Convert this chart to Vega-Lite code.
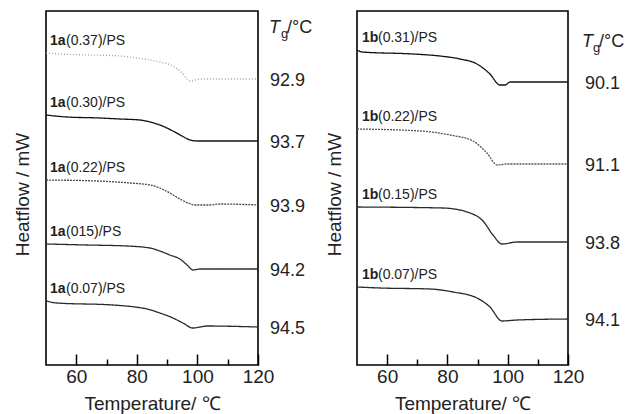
{
  "$schema": "https://vega.github.io/schema/vega-lite/v6.json",
  "background": "white",
  "padding": {"left": 12, "top": 10, "right": 5, "bottom": 5},
  "bounds": "flush",
  "spacing": 99,
  "config": {
    "font": "Liberation Sans",
    "view": {"stroke": "#000", "strokeWidth": 1.6},
    "text": {"font": "Liberation Sans", "color": "#222"}
  },
  "datasets": {
    "a": [
      {"s": "1a(0.37)", "T": 50, "h": 312}, {"s": "1a(0.37)", "T": 54.6, "h": 311}, {"s": "1a(0.37)", "T": 64.5, "h": 310}, {"s": "1a(0.37)", "T": 74.4, "h": 309}, {"s": "1a(0.37)", "T": 80.0, "h": 307}, {"s": "1a(0.37)", "T": 87.6, "h": 303}, {"s": "1a(0.37)", "T": 91.9, "h": 299}, {"s": "1a(0.37)", "T": 94.9, "h": 292}, {"s": "1a(0.37)", "T": 96.6, "h": 286}, {"s": "1a(0.37)", "T": 97.6, "h": 284}, {"s": "1a(0.37)", "T": 99.2, "h": 285}, {"s": "1a(0.37)", "T": 100.9, "h": 286}, {"s": "1a(0.37)", "T": 120, "h": 286},
      {"s": "1a(0.30)", "T": 50, "h": 250}, {"s": "1a(0.30)", "T": 56.9, "h": 248}, {"s": "1a(0.30)", "T": 67.8, "h": 247}, {"s": "1a(0.30)", "T": 74.4, "h": 246}, {"s": "1a(0.30)", "T": 81.0, "h": 245}, {"s": "1a(0.30)", "T": 84.3, "h": 243}, {"s": "1a(0.30)", "T": 87.6, "h": 240}, {"s": "1a(0.30)", "T": 91.9, "h": 234}, {"s": "1a(0.30)", "T": 94.9, "h": 229}, {"s": "1a(0.30)", "T": 97.6, "h": 225}, {"s": "1a(0.30)", "T": 99.9, "h": 224}, {"s": "1a(0.30)", "T": 120, "h": 224},
      {"s": "1a(0.22)", "T": 50, "h": 185}, {"s": "1a(0.22)", "T": 66.8, "h": 184}, {"s": "1a(0.22)", "T": 77.7, "h": 182}, {"s": "1a(0.22)", "T": 84.3, "h": 180}, {"s": "1a(0.22)", "T": 87.6, "h": 177}, {"s": "1a(0.22)", "T": 90.9, "h": 172}, {"s": "1a(0.22)", "T": 94.2, "h": 166}, {"s": "1a(0.22)", "T": 96.9, "h": 162}, {"s": "1a(0.22)", "T": 99.2, "h": 160}, {"s": "1a(0.22)", "T": 104.2, "h": 160}, {"s": "1a(0.22)", "T": 107.5, "h": 161}, {"s": "1a(0.22)", "T": 120, "h": 160},
      {"s": "1a(0.15)", "T": 50, "h": 121}, {"s": "1a(0.15)", "T": 63.5, "h": 120}, {"s": "1a(0.15)", "T": 76.7, "h": 119}, {"s": "1a(0.15)", "T": 84.3, "h": 117}, {"s": "1a(0.15)", "T": 87.6, "h": 114}, {"s": "1a(0.15)", "T": 90.9, "h": 110}, {"s": "1a(0.15)", "T": 94.2, "h": 106}, {"s": "1a(0.15)", "T": 96.6, "h": 100}, {"s": "1a(0.15)", "T": 98.5, "h": 95}, {"s": "1a(0.15)", "T": 100.9, "h": 96}, {"s": "1a(0.15)", "T": 120, "h": 96},
      {"s": "1a(0.07)", "T": 50, "h": 64}, {"s": "1a(0.07)", "T": 53.6, "h": 62}, {"s": "1a(0.07)", "T": 72.1, "h": 60}, {"s": "1a(0.07)", "T": 79.4, "h": 58}, {"s": "1a(0.07)", "T": 83.4, "h": 56}, {"s": "1a(0.07)", "T": 87.6, "h": 52}, {"s": "1a(0.07)", "T": 91.9, "h": 47}, {"s": "1a(0.07)", "T": 95.2, "h": 42}, {"s": "1a(0.07)", "T": 98.5, "h": 37}, {"s": "1a(0.07)", "T": 100.9, "h": 38}, {"s": "1a(0.07)", "T": 103.2, "h": 39}, {"s": "1a(0.07)", "T": 120, "h": 38}
    ],
    "b": [
      {"s": "1b(0.31)", "T": 50, "h": 315}, {"s": "1b(0.31)", "T": 51.7, "h": 313}, {"s": "1b(0.31)", "T": 68.6, "h": 311}, {"s": "1b(0.31)", "T": 77.5, "h": 309}, {"s": "1b(0.31)", "T": 84.2, "h": 306}, {"s": "1b(0.31)", "T": 89.8, "h": 301}, {"s": "1b(0.31)", "T": 94.1, "h": 291}, {"s": "1b(0.31)", "T": 97.4, "h": 280}, {"s": "1b(0.31)", "T": 99.1, "h": 280}, {"s": "1b(0.31)", "T": 100.8, "h": 283}, {"s": "1b(0.31)", "T": 120, "h": 283},
      {"s": "1b(0.22)", "T": 50, "h": 236}, {"s": "1b(0.22)", "T": 70.9, "h": 234}, {"s": "1b(0.22)", "T": 80.9, "h": 230}, {"s": "1b(0.22)", "T": 88.5, "h": 224}, {"s": "1b(0.22)", "T": 93.1, "h": 212}, {"s": "1b(0.22)", "T": 96.5, "h": 200}, {"s": "1b(0.22)", "T": 99.8, "h": 201}, {"s": "1b(0.22)", "T": 120, "h": 201},
      {"s": "1b(0.15)", "T": 50, "h": 158}, {"s": "1b(0.15)", "T": 78.5, "h": 157}, {"s": "1b(0.15)", "T": 87.5, "h": 152}, {"s": "1b(0.15)", "T": 91.8, "h": 144}, {"s": "1b(0.15)", "T": 95.1, "h": 130}, {"s": "1b(0.15)", "T": 98.1, "h": 121}, {"s": "1b(0.15)", "T": 103.1, "h": 123}, {"s": "1b(0.15)", "T": 120, "h": 123},
      {"s": "1b(0.07)", "T": 50, "h": 78}, {"s": "1b(0.07)", "T": 57.6, "h": 77}, {"s": "1b(0.07)", "T": 74.2, "h": 76}, {"s": "1b(0.07)", "T": 81.9, "h": 73}, {"s": "1b(0.07)", "T": 89.8, "h": 67}, {"s": "1b(0.07)", "T": 94.1, "h": 58}, {"s": "1b(0.07)", "T": 98.1, "h": 44}, {"s": "1b(0.07)", "T": 103.1, "h": 45}, {"s": "1b(0.07)", "T": 120, "h": 46}
    ],
    "la": [
      {"s": "1a(0.37)", "code": "1a", "rest": "(0.37)/PS", "tg": "92.9", "hs": 312, "he": 286},
      {"s": "1a(0.30)", "code": "1a", "rest": "(0.30)/PS", "tg": "93.7", "hs": 250, "he": 224},
      {"s": "1a(0.22)", "code": "1a", "rest": "(0.22)/PS", "tg": "93.9", "hs": 185, "he": 160},
      {"s": "1a(0.15)", "code": "1a", "rest": "(015)/PS", "tg": "94.2", "hs": 121, "he": 96},
      {"s": "1a(0.07)", "code": "1a", "rest": "(0.07)/PS", "tg": "94.5", "hs": 64, "he": 38}
    ],
    "lb": [
      {"s": "1b(0.31)", "code": "1b", "rest": "(0.31)/PS", "tg": "90.1", "hs": 315, "he": 283},
      {"s": "1b(0.22)", "code": "1b", "rest": "(0.22)/PS", "tg": "91.1", "hs": 236, "he": 201},
      {"s": "1b(0.15)", "code": "1b", "rest": "(0.15)/PS", "tg": "93.8", "hs": 158, "he": 123},
      {"s": "1b(0.07)", "code": "1b", "rest": "(0.07)/PS", "tg": "94.1", "hs": 78, "he": 46}
    ]
  },
  "hconcat": [
    {
      "width": 212,
      "height": 354,
      "encoding": {
        "x": {"type": "quantitative", "title": "Temperature/ ℃", "scale": {"domain": [50, 120], "nice": false, "zero": false},
          "axis": {"values": [60, 70, 80, 90, 100, 110, 120], "labelExpr": "datum.value % 20 === 0 ? datum.label : ''",
            "tickSize": {"condition": {"test": "datum.value % 20 === 0", "value": -11}, "value": -6},
            "tickColor": "#000", "tickWidth": 1.5, "domain": false, "grid": false, "labelFlush": false, "labelOverlap": false,
            "labelFontSize": 19, "labelColor": "#222", "labelPadding": 13, "titleFontSize": 19,
            "titleFontWeight": "normal", "titleColor": "#222", "titlePadding": 3}},
        "y": {"type": "quantitative", "title": "Heatflow / mW", "scale": {"domain": [0, 354], "nice": false},
          "axis": {"labels": false, "ticks": false, "domain": false, "grid": false, "titleY": 183,
            "titlePadding": 14, "titleFontSize": 19, "titleFontWeight": "normal", "titleColor": "#222"}}
      },
      "layer": [
        {
          "data": {"name": "a"},
          "mark": {"type": "line", "strokeWidth": 1.3, "interpolate": "monotone"},
          "encoding": {
            "x": {"field": "T"},
            "y": {"field": "h"},
            "detail": {"field": "s"},
            "color": {"field": "s", "type": "nominal", "legend": null,
              "scale": {"domain": ["1a(0.37)", "1a(0.30)", "1a(0.22)", "1a(0.15)", "1a(0.07)"], "range": ["#a0a0a0", "#111111", "#4a4a4a", "#2a2a2a", "#2a2a2a"]}},
            "strokeDash": {"field": "s", "type": "nominal", "legend": null,
              "scale": {"domain": ["1a(0.37)", "1a(0.30)", "1a(0.22)", "1a(0.15)", "1a(0.07)"], "range": [[1, 2], [1, 0], [2, 1], [1, 0], [1, 0]]}}
          }
        },
        {
          "data": {"name": "la"},
          "mark": {"type": "text", "align": "left", "baseline": "middle", "fontSize": 14, "fontWeight": "bold", "dx": 4, "dy": -12},
          "encoding": {"x": {"datum": 50}, "y": {"field": "hs"}, "text": {"field": "code"}}
        },
        {
          "data": {"name": "la"},
          "mark": {"type": "text", "align": "left", "baseline": "middle", "fontSize": 14, "dx": 20, "dy": -12},
          "encoding": {"x": {"datum": 50}, "y": {"field": "hs"}, "text": {"field": "rest"}}
        },
        {
          "data": {"name": "la"},
          "mark": {"type": "text", "align": "left", "baseline": "middle", "fontSize": 18, "dx": 12, "dy": 2},
          "encoding": {"x": {"datum": 120}, "y": {"field": "he"}, "text": {"field": "tg"}}
        },
        {
          "data": {"values": [{"t": "T"}]},
          "mark": {"type": "text", "align": "left", "baseline": "middle", "fontSize": 18, "fontStyle": "italic", "dx": 11},
          "encoding": {"x": {"datum": 120}, "y": {"datum": 337}, "text": {"field": "t"}}
        },
        {
          "data": {"values": [{"t": "g"}]},
          "mark": {"type": "text", "align": "left", "baseline": "middle", "fontSize": 13, "dx": 23, "dy": 6},
          "encoding": {"x": {"datum": 120}, "y": {"datum": 337}, "text": {"field": "t"}}
        },
        {
          "data": {"values": [{"t": "/°C"}]},
          "mark": {"type": "text", "align": "left", "baseline": "middle", "fontSize": 18, "dx": 29},
          "encoding": {"x": {"datum": 120}, "y": {"datum": 337}, "text": {"field": "t"}}
        }
      ],
      "resolve": {"scale": {"color": "independent", "strokeDash": "independent"}}
    },
    {
      "width": 211,
      "height": 354,
      "encoding": {
        "x": {"type": "quantitative", "title": "Temperature/ ℃", "scale": {"domain": [50, 120], "nice": false, "zero": false},
          "axis": {"values": [60, 70, 80, 90, 100, 110, 120], "labelExpr": "datum.value % 20 === 0 ? datum.label : ''",
            "tickSize": {"condition": {"test": "datum.value % 20 === 0", "value": -11}, "value": -6},
            "tickColor": "#000", "tickWidth": 1.5, "domain": false, "grid": false, "labelFlush": false, "labelOverlap": false,
            "labelFontSize": 19, "labelColor": "#222", "labelPadding": 13, "titleFontSize": 19,
            "titleFontWeight": "normal", "titleColor": "#222", "titlePadding": 3}},
        "y": {"type": "quantitative", "title": "Heatflow / mW", "scale": {"domain": [0, 354], "nice": false},
          "axis": {"labels": false, "ticks": false, "domain": false, "grid": false, "titleY": 183,
            "titlePadding": 13, "titleFontSize": 19, "titleFontWeight": "normal", "titleColor": "#222"}}
      },
      "layer": [
        {
          "data": {"name": "b"},
          "mark": {"type": "line", "strokeWidth": 1.3, "interpolate": "monotone"},
          "encoding": {
            "x": {"field": "T"},
            "y": {"field": "h"},
            "detail": {"field": "s"},
            "color": {"field": "s", "type": "nominal", "legend": null,
              "scale": {"domain": ["1b(0.31)", "1b(0.22)", "1b(0.15)", "1b(0.07)"], "range": ["#111111", "#555555", "#2a2a2a", "#2a2a2a"]}},
            "strokeDash": {"field": "s", "type": "nominal", "legend": null,
              "scale": {"domain": ["1b(0.31)", "1b(0.22)", "1b(0.15)", "1b(0.07)"], "range": [[1, 0], [2, 1], [1, 0], [1, 0]]}}
          }
        },
        {
          "data": {"name": "lb"},
          "mark": {"type": "text", "align": "left", "baseline": "middle", "fontSize": 14, "fontWeight": "bold", "dx": 5, "dy": -12},
          "encoding": {"x": {"datum": 50}, "y": {"field": "hs"}, "text": {"field": "code"}}
        },
        {
          "data": {"name": "lb"},
          "mark": {"type": "text", "align": "left", "baseline": "middle", "fontSize": 14, "dx": 21, "dy": -12},
          "encoding": {"x": {"datum": 50}, "y": {"field": "hs"}, "text": {"field": "rest"}}
        },
        {
          "data": {"name": "lb"},
          "mark": {"type": "text", "align": "left", "baseline": "middle", "fontSize": 18, "dx": 17, "dy": 2},
          "encoding": {"x": {"datum": 120}, "y": {"field": "he"}, "text": {"field": "tg"}}
        },
        {
          "data": {"values": [{"t": "T"}]},
          "mark": {"type": "text", "align": "left", "baseline": "middle", "fontSize": 18, "fontStyle": "italic", "dx": 14},
          "encoding": {"x": {"datum": 120}, "y": {"datum": 323}, "text": {"field": "t"}}
        },
        {
          "data": {"values": [{"t": "g"}]},
          "mark": {"type": "text", "align": "left", "baseline": "middle", "fontSize": 13, "dx": 25, "dy": 6},
          "encoding": {"x": {"datum": 120}, "y": {"datum": 323}, "text": {"field": "t"}}
        },
        {
          "data": {"values": [{"t": "/°C"}]},
          "mark": {"type": "text", "align": "left", "baseline": "middle", "fontSize": 18, "dx": 31},
          "encoding": {"x": {"datum": 120}, "y": {"datum": 323}, "text": {"field": "t"}}
        }
      ],
      "resolve": {"scale": {"color": "independent", "strokeDash": "independent"}}
    }
  ]
}
